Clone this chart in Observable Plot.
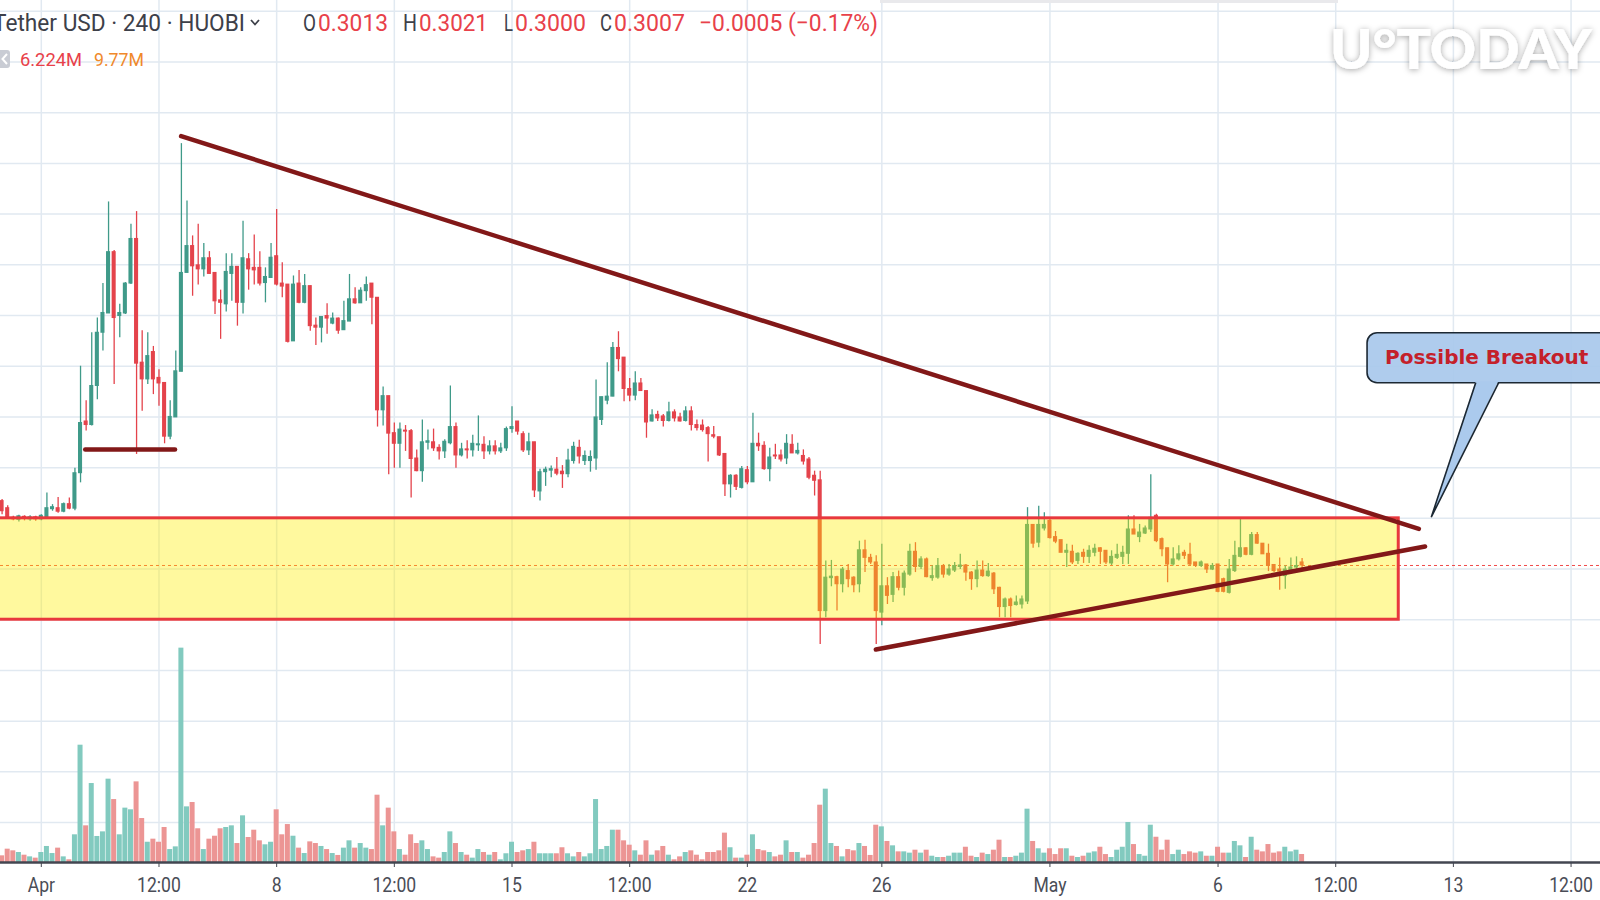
<!DOCTYPE html>
<html><head><meta charset="utf-8">
<script src="https://cdn.jsdelivr.net/npm/d3@7"></script>
<script src="https://cdn.jsdelivr.net/npm/@observablehq/plot@0.6"></script>
<style>
html,body{margin:0;padding:0;background:#fff;}
#wrap{position:relative;width:1600px;height:900px;overflow:hidden;background:#fff;}
#wrap svg{position:absolute;left:0;top:0;overflow:hidden;}
</style></head><body><div id="wrap"></div>
<script>
// ---- data (4h candles, HUOBI XRP/USDT) ----
const firstCandle = "2019-03-30T20:00Z";
const open = [
0.3134,0.3120,0.3101,0.3097,0.3103,0.3098,0.3102,0.3098,0.3101,0.3118,
0.3120,0.3113,0.3128,0.3119,0.3189,0.3291,0.3284,0.3361,0.3466,0.3504,
0.3625,0.3499,0.3504,0.3563,0.3651,0.3407,0.3374,0.3428,0.3377,0.3367,
0.3261,0.3299,0.3389,0.3584,0.3637,0.3599,0.3591,0.3613,0.3584,0.3530,
0.3522,0.3582,0.3596,0.3525,0.3611,0.3594,0.3594,0.3564,0.3574,0.3617,
0.3563,0.3561,0.3449,0.3563,0.3525,0.3558,0.3480,0.3476,0.3499,0.3484,
0.3494,0.3471,0.3488,0.3532,0.3524,0.3548,0.3563,0.3535,0.3313,0.3341,
0.3268,0.3247,0.3273,0.3272,0.3218,0.3193,0.3249,0.3250,0.3239,0.3232,
0.3248,0.3280,0.3224,0.3236,0.3234,0.3244,0.3245,0.3232,0.3242,0.3232,
0.3238,0.3276,0.3291,0.3266,0.3234,0.3250,0.3153,0.3191,0.3194,0.3196,
0.3192,0.3187,0.3213,0.3239,0.3213,0.3213,0.3218,0.3294,0.3332,0.3340,
0.3436,0.3417,0.3355,0.3342,0.3366,0.3351,0.3291,0.3304,0.3301,0.3292,
0.3309,0.3299,0.3292,0.3311,0.3284,0.3283,0.3278,0.3264,0.3260,0.3227,
0.3167,0.3184,0.3160,0.3195,0.3171,0.3247,0.3243,0.3197,0.3224,0.3224,
0.3218,0.3245,0.3228,0.3223,0.3216,0.3184,0.3175,0.2917,0.2982,0.2984,
0.2970,0.2996,0.2983,0.2970,0.3037,0.3022,0.3013,0.2914,0.2966,0.2949,
0.2984,0.2963,0.2989,0.3034,0.3004,0.3019,0.2982,0.2983,0.3006,0.2989,
0.2997,0.3004,0.3007,0.2993,0.2980,0.2997,0.2986,0.2991,0.2963,0.2925,
0.2940,0.2929,0.2930,0.2936,0.3087,0.3052,0.3080,0.3095,0.3063,0.3057,
0.3032,0.3034,0.3016,0.3032,0.3024,0.3032,0.3041,0.3036,0.3011,0.3022,
0.3024,0.3030,0.3078,0.3063,0.3070,0.3078,0.3105,0.3059,0.3041,0.3009,
0.3019,0.3032,0.3028,0.3013,0.3006,0.3009,0.2999,0.3009,0.2980,0.2953,
0.2996,0.3024,0.3041,0.3028,0.3067,0.3050,0.3030,0.3008,0.2999,0.2986,
0.2996,0.3003,0.3013];
const high = [
0.3137,0.3125,0.3104,0.3106,0.3105,0.3105,0.3104,0.3107,0.3150,0.3127,
0.3141,0.3130,0.3140,0.3199,0.3400,0.3332,0.3466,0.3495,0.3563,0.3724,
0.3628,0.3522,0.3565,0.3680,0.3705,0.3470,0.3466,0.3439,0.3393,0.3367,
0.3332,0.3430,0.3839,0.3726,0.3657,0.3680,0.3642,0.3626,0.3584,0.3550,
0.3622,0.3622,0.3596,0.3686,0.3622,0.3659,0.3626,0.3594,0.3642,0.3709,
0.3604,0.3561,0.3578,0.3589,0.3581,0.3558,0.3495,0.3497,0.3523,0.3505,
0.3495,0.3528,0.3581,0.3555,0.3555,0.3576,0.3563,0.3535,0.3359,0.3341,
0.3288,0.3288,0.3283,0.3275,0.3235,0.3294,0.3274,0.3276,0.3245,0.3255,
0.3361,0.3288,0.3248,0.3253,0.3264,0.3302,0.3261,0.3253,0.3253,0.3248,
0.3280,0.3320,0.3291,0.3271,0.3268,0.3250,0.3197,0.3201,0.3203,0.3220,
0.3204,0.3236,0.3250,0.3254,0.3233,0.3233,0.3373,0.3339,0.3407,0.3447,
0.3468,0.3417,0.3376,0.3389,0.3376,0.3351,0.3314,0.3311,0.3305,0.3329,
0.3314,0.3307,0.3320,0.3320,0.3294,0.3294,0.3281,0.3281,0.3260,0.3227,
0.3186,0.3186,0.3202,0.3202,0.3307,0.3268,0.3251,0.3238,0.3246,0.3235,
0.3265,0.3265,0.3248,0.3235,0.3220,0.3193,0.3193,0.3016,0.3017,0.2986,
0.3003,0.3009,0.2985,0.3055,0.3057,0.3029,0.3026,0.3049,0.2983,0.2993,
0.2996,0.2996,0.3049,0.3052,0.3024,0.3022,0.3006,0.3021,0.3009,0.3009,
0.3013,0.3029,0.3009,0.2995,0.3016,0.3016,0.3011,0.2993,0.2964,0.2943,
0.2943,0.2947,0.2947,0.3121,0.3087,0.3124,0.3111,0.3098,0.3074,0.3057,
0.3049,0.3047,0.3032,0.3039,0.3046,0.3049,0.3042,0.3036,0.3036,0.3049,
0.3045,0.3105,0.3105,0.3088,0.3085,0.3186,0.3108,0.3061,0.3041,0.3042,
0.3046,0.3037,0.3051,0.3013,0.3016,0.3009,0.3011,0.3009,0.2982,0.3019,
0.3055,0.3098,0.3042,0.3072,0.3072,0.3050,0.3049,0.3009,0.3022,0.3006,
0.3022,0.3024,0.3021];
const low = [
0.3107,0.3099,0.3095,0.3093,0.3095,0.3094,0.3094,0.3095,0.3098,0.3114,
0.3110,0.3111,0.3117,0.3115,0.3170,0.3272,0.3282,0.3334,0.3430,0.3504,
0.3364,0.3456,0.3502,0.3561,0.3226,0.3311,0.3364,0.3344,0.3321,0.3247,
0.3255,0.3299,0.3389,0.3584,0.3538,0.3560,0.3576,0.3581,0.3502,0.3453,
0.3507,0.3528,0.3479,0.3503,0.3550,0.3560,0.3558,0.3525,0.3574,0.3558,
0.3535,0.3446,0.3449,0.3523,0.3523,0.3469,0.3441,0.3446,0.3463,0.3482,
0.3463,0.3471,0.3488,0.3522,0.3524,0.3528,0.3482,0.3280,0.3282,0.3186,
0.3199,0.3199,0.3232,0.3140,0.3192,0.3171,0.3235,0.3232,0.3215,0.3218,
0.3245,0.3199,0.3221,0.3217,0.3221,0.3232,0.3216,0.3225,0.3225,0.3228,
0.3232,0.3268,0.3264,0.3230,0.3224,0.3141,0.3134,0.3163,0.3180,0.3184,
0.3159,0.3180,0.3207,0.3207,0.3204,0.3191,0.3195,0.3283,0.3324,0.3340,
0.3389,0.3330,0.3330,0.3332,0.3350,0.3258,0.3290,0.3291,0.3280,0.3290,
0.3290,0.3290,0.3290,0.3272,0.3272,0.3270,0.3211,0.3257,0.3222,0.3143,
0.3140,0.3155,0.3158,0.3166,0.3171,0.3232,0.3195,0.3172,0.3216,0.3211,
0.3206,0.3228,0.3225,0.3205,0.3176,0.3144,0.2851,0.2904,0.2965,0.2917,
0.2953,0.2963,0.2953,0.2953,0.2993,0.3009,0.2851,0.2888,0.2930,0.2934,
0.2957,0.2947,0.2986,0.2993,0.2999,0.2983,0.2976,0.2980,0.2982,0.2986,
0.2993,0.2999,0.2976,0.2958,0.2963,0.2984,0.2984,0.2950,0.2904,0.2904,
0.2904,0.2927,0.2921,0.2930,0.3041,0.3042,0.3075,0.3059,0.3050,0.3032,
0.3003,0.3009,0.3009,0.3011,0.3011,0.3024,0.3009,0.3009,0.3007,0.3019,
0.3009,0.3009,0.3068,0.3052,0.3068,0.3072,0.3052,0.3024,0.2973,0.3006,
0.3016,0.3019,0.3006,0.3003,0.3003,0.2991,0.2997,0.2953,0.2953,0.2951,
0.2993,0.3022,0.3026,0.3026,0.3049,0.3029,0.2995,0.2993,0.2958,0.2960,
0.2993,0.2997,0.3000];
const close = [
0.3114,0.3101,0.3098,0.3104,0.3099,0.3102,0.3098,0.3105,0.3120,0.3122,
0.3113,0.3128,0.3119,0.3189,0.3288,0.3284,0.3361,0.3466,0.3505,0.3625,
0.3495,0.3505,0.3563,0.3651,0.3405,0.3374,0.3420,0.3374,0.3366,0.3261,
0.3300,0.3390,0.3584,0.3637,0.3597,0.3591,0.3613,0.3582,0.3528,0.3525,
0.3586,0.3596,0.3525,0.3613,0.3591,0.3589,0.3563,0.3576,0.3614,0.3561,
0.3557,0.3448,0.3561,0.3525,0.3558,0.3479,0.3476,0.3497,0.3494,0.3494,
0.3470,0.3489,0.3532,0.3524,0.3549,0.3560,0.3535,0.3313,0.3341,0.3267,
0.3247,0.3275,0.3271,0.3217,0.3193,0.3250,0.3252,0.3238,0.3232,0.3251,
0.3280,0.3224,0.3236,0.3234,0.3247,0.3246,0.3232,0.3242,0.3232,0.3238,
0.3276,0.3280,0.3271,0.3234,0.3250,0.3155,0.3191,0.3196,0.3197,0.3188,
0.3187,0.3214,0.3241,0.3222,0.3223,0.3221,0.3299,0.3339,0.3340,0.3436,
0.3414,0.3355,0.3342,0.3366,0.3351,0.3289,0.3303,0.3297,0.3292,0.3309,
0.3297,0.3291,0.3311,0.3284,0.3278,0.3274,0.3266,0.3261,0.3224,0.3167,
0.3184,0.3162,0.3197,0.3171,0.3247,0.3242,0.3197,0.3220,0.3222,0.3216,
0.3247,0.3228,0.3233,0.3212,0.3180,0.3174,0.2917,0.2983,0.2985,0.2970,
0.2999,0.2980,0.2968,0.3037,0.3022,0.3013,0.2917,0.2966,0.2947,0.2984,
0.2963,0.2991,0.3034,0.3004,0.3019,0.2984,0.2986,0.3006,0.2989,0.2999,
0.3006,0.3007,0.2993,0.2980,0.2997,0.2986,0.2995,0.2960,0.2925,0.2940,
0.2927,0.2934,0.2940,0.3087,0.3050,0.3087,0.3087,0.3061,0.3054,0.3032,
0.3036,0.3013,0.3030,0.3024,0.3036,0.3040,0.3034,0.3013,0.3024,0.3028,
0.3032,0.3078,0.3068,0.3072,0.3080,0.3101,0.3055,0.3039,0.3009,0.3019,
0.3029,0.3026,0.3009,0.3006,0.3013,0.2999,0.3006,0.2955,0.2955,0.2999,
0.3026,0.3041,0.3028,0.3067,0.3050,0.3029,0.3006,0.2996,0.2995,0.2999,
0.3003,0.3006,0.3007];
// volume, millions
const volume = [
5.2,10.4,9.1,7.8,5.7,4.4,3.4,7.8,12.5,7.0,
11.2,4.4,2.1,21.6,91.5,28.6,61.6,20.3,23.9,65.0,
49.1,21.6,42.4,41.1,62.9,34.3,15.8,18.2,15.8,27.3,
10.1,12.2,167.2,43.4,46.8,26.3,10.1,18.2,20.5,26.3,
27.3,28.6,14.8,36.4,19.5,25.2,16.9,13.8,15.8,41.1,
21.6,29.6,20.5,11.2,7.0,16.1,14.8,12.5,10.1,7.0,
5.5,11.2,16.9,11.2,14.8,11.2,10.1,52.5,28.6,42.4,
23.9,10.1,5.7,21.6,14.8,16.9,10.1,4.4,3.4,7.8,
23.9,14.8,7.8,5.7,3.4,10.1,7.8,5.7,7.8,2.1,
6.8,15.8,7.8,9.1,10.1,15.8,6.8,6.8,6.8,6.8,
11.5,6.8,4.4,7.8,4.4,6.8,49.1,10.1,12.5,25.2,
25.2,16.9,13.5,9.1,5.7,16.9,5.7,9.1,12.5,5.7,
2.1,4.4,7.8,9.1,5.7,2.1,7.8,7.8,9.1,22.9,
11.5,3.4,3.4,5.7,21.6,10.1,9.1,7.8,4.4,5.7,
16.9,7.8,7.8,3.4,5.7,14.8,44.7,57.2,14.8,12.5,
4.4,10.1,9.1,14.8,12.5,5.5,29.1,27.8,16.4,13.0,
8.3,8.3,7.3,9.6,7.3,9.6,4.9,3.9,3.9,4.9,
7.3,7.3,11.9,4.9,3.9,7.3,6.2,9.6,17.4,3.9,
3.9,4.9,7.3,41.6,16.4,10.7,7.3,10.7,6.2,10.7,
10.7,4.9,3.9,4.9,7.3,8.3,11.9,6.2,3.9,9.6,
11.9,31.2,14.0,6.2,4.9,29.1,19.7,9.6,17.4,6.2,
9.6,6.2,8.3,7.3,8.3,4.9,4.9,11.9,7.3,7.3,
16.4,13.0,3.9,19.7,9.6,8.3,14.0,7.3,8.3,11.9,
8.3,9.6,6.224];
const tickDates = ["2019-04-01T00:00Z","2019-04-04T12:00Z","2019-04-08T00:00Z","2019-04-11T12:00Z","2019-04-15T00:00Z","2019-04-18T12:00Z","2019-04-22T00:00Z","2019-04-26T00:00Z","2019-05-01T00:00Z","2019-05-06T00:00Z","2019-05-09T12:00Z","2019-05-13T00:00Z","2019-05-16T12:00Z"];
const tickLabels = ["Apr","12:00","8","12:00","15","12:00","22","26","May","6","12:00","13","12:00"];
const priceGrid = [0.25,0.26,0.27,0.28,0.29,0.30,0.31,0.32,0.33,0.34,0.35,0.36,0.37,0.38,0.39,0.40,0.41];
const lastPrice = [0.3007];
const zoneTimes = ["2019-03-28T00:00Z","2019-05-11T09:00Z"];
const zonePrices = [0.29, 0.31];
const resistanceLine = [["2019-04-05T03:48Z",0.38537],["2019-05-11T23:21Z",0.30793]];
const supportLine = [["2019-04-25T19:44Z",0.28412],["2019-05-12T03:46Z",0.30444]];
const baseLine = [["2019-04-02T07:21Z",0.32357],["2019-04-04T23:27Z",0.32357]];
const calloutText = "Possible Breakout";
const calloutBox = [["2019-05-10T10:44Z",0.34651],["2019-05-19T00:00Z",0.33665]];
const calloutTail = [["2019-05-13T15:50Z",0.33665],["2019-05-12T08:12Z",0.31022],["2019-05-14T08:10Z",0.33665]];
const calloutAnchor = ["2019-05-13T23:46Z",0.34178];
const legendTitle = "Tether USD · 240 · HUOBI";
const legendOHLC = [["O","0.3013"],["H","0.3021"],["L","0.3000"],["C","0.3007"]];
const legendChange = "−0.0005 (−0.17%)";
const legendVolume = ["6.224M","9.77M"];
const watermark = "U°TODAY";

// ---- build ----
const HOUR = 3600e3;
const D = s => new Date(s);
const t0 = +D(firstCandle);
const UP = "#3f9a89", DOWN = "#e4434b", VUP = "#82cabf", VDOWN = "#ec9594";
const candles = open.map((o, i) => ({t: new Date(t0 + i*4*HOUR), o, h: high[i], l: low[i], c: close[i], v: volume[i], up: close[i] >= o}));
const xDomain = [D("2019-03-30T18:52Z"), D("2019-05-17T09:01Z")];
const yDomain = [0.24212, 0.41213];
const GRID = "#e1e9f1";
const pt = a => ({t: D(a[0]), p: a[1]});

const wrap = document.getElementById("wrap");

const price = Plot.plot({
  width: 1600, height: 862, margin: 0,
  x: {type: "utc", domain: xDomain, axis: null},
  y: {domain: yDomain, axis: null},
  style: {background: "white"},
  marks: [
    Plot.ruleY(priceGrid, {stroke: GRID, strokeWidth: 1.5}),
    Plot.ruleX(tickDates.map(D), {stroke: GRID, strokeWidth: 1.5}),
    Plot.ruleY(lastPrice, {stroke: "#ef4a4a", strokeWidth: 1, strokeDasharray: "3,3"}),
    Plot.ruleX(candles, {x: "t", y1: "l", y2: "h", stroke: d => d.up ? UP : DOWN, strokeWidth: 1.3}),
    Plot.rect(candles, {x1: d => new Date(+d.t - 1.45*HOUR), x2: d => new Date(+d.t + 1.45*HOUR), y1: "o", y2: "c", fill: d => d.up ? UP : DOWN, insetTop: -0.5, insetBottom: -0.5}),
    Plot.rect([0], {x1: () => D(zoneTimes[0]), x2: () => D(zoneTimes[1]), y1: () => zonePrices[0], y2: () => zonePrices[1], fill: "rgb(255,240,0)", fillOpacity: 0.38, stroke: "#e8383d", strokeWidth: 3}),
    Plot.line(resistanceLine.map(pt), {x: "t", y: "p", stroke: "#821818", strokeWidth: 4.5}),
    Plot.line(supportLine.map(pt), {x: "t", y: "p", stroke: "#821818", strokeWidth: 4.5}),
    Plot.line(baseLine.map(pt), {x: "t", y: "p", stroke: "#821818", strokeWidth: 4.5}),
    Plot.rect([0], {x1: () => D(calloutBox[0][0]), x2: () => D(calloutBox[1][0]), y1: () => calloutBox[0][1], y2: () => calloutBox[1][1], rx: 10, fill: "#a8c8ec", fillOpacity: 0.92, stroke: "#1c2833", strokeWidth: 1.6}),
    Plot.line(calloutTail.map(pt).map((d, i) => i === 1 ? d : {t: d.t, p: d.p + 0.0004}), {x: "t", y: "p", fill: "#abcaed", stroke: "none"}),
    Plot.line(calloutTail.map(pt), {x: "t", y: "p", stroke: "#1c2833", strokeWidth: 1.6, fill: "none", strokeLinejoin: "miter"}),
    Plot.text([calloutText], {x: () => D(calloutAnchor[0]), y: () => calloutAnchor[1], text: d => d, fill: "#c4202a", fontSize: 20, fontWeight: "bold", fontFamily: "DejaVu Sans"})
  ]
});
wrap.appendChild(price);

const labelByTime = new Map(tickDates.map((d, i) => [+D(d), tickLabels[i]]));
const vol = Plot.plot({
  width: 1600, height: 900, marginTop: 0, marginBottom: 38, marginLeft: 0, marginRight: 0,
  x: {type: "utc", domain: xDomain},
  y: {domain: [0, 672.36], axis: null},
  style: {background: "transparent", fontFamily: "Roboto", fontSize: "20px", color: "#4a4d57"},
  marks: [
    Plot.rect(candles, {x1: d => new Date(+d.t - 2*HOUR), x2: d => new Date(+d.t + 2*HOUR), y1: 0, y2: "v", fill: d => d.up ? VUP : VDOWN, insetLeft: 0.3, insetRight: 0.3}),
    Plot.ruleY([0], {stroke: "#434651", strokeWidth: 2.5}),
    Plot.axisX({ticks: tickDates.map(D), tickFormat: d => labelByTime.get(+d), tickSize: 5, tickPadding: 10, stroke: "#434651", fill: "#4a4d57", label: null})
  ]
});
wrap.appendChild(vol);
vol.querySelectorAll('[aria-label="x-axis tick label"] text').forEach(el => {
  const w = el.getComputedTextLength();
  el.setAttribute("textLength", (w * 0.88).toFixed(1));
  el.setAttribute("lengthAdjust", "spacingAndGlyphs");
});

// ---- legend & watermark ----
const hdr = d3.create("svg").attr("width", 1600).attr("height", 90);
const f = hdr.append("defs").append("filter").attr("id", "wm").attr("x", "-10%").attr("y", "-40%").attr("width", "120%").attr("height", "180%");
f.append("feDropShadow").attr("dx", 0).attr("dy", 1).attr("stdDeviation", 3).attr("flood-color", "#000").attr("flood-opacity", 0.35);
hdr.append("rect").attr("x", 880).attr("y", 0).attr("width", 458).attr("height", 3).attr("fill", "#e9e9ec");
function put(txt, x, w, y, size, color) {
  return hdr.append("text").attr("x", x).attr("y", y).attr("font-family", "Roboto").attr("font-size", size).attr("fill", color).attr("textLength", w).attr("lengthAdjust", "spacingAndGlyphs").text(txt);
}
const DARK = "#3d4049", RED = "#e8414a";
put(legendTitle, -7, 252, 31, 24, DARK);
hdr.append("path").attr("d", "M251,20 L255,24.5 L259,20").attr("fill", "none").attr("stroke", DARK).attr("stroke-width", 1.8);
const ohlcX = [[303, 13, 318, 70], [403, 14, 419, 69], [504, 9, 515, 71], [600, 12, 614, 71]];
legendOHLC.forEach((d, i) => {
  const p = ohlcX[i];
  put(d[0], p[0], p[1], 31, 24, DARK);
  put(d[1], p[2], p[3], 31, 24, RED);
});
put(legendChange, 699, 179, 31, 24, RED);
hdr.append("rect").attr("x", -8).attr("y", 50).attr("width", 18).attr("height", 18).attr("rx", 3).attr("fill", "#c9ccd4");
hdr.append("path").attr("d", "M7,54 L2.5,59 L7,64").attr("fill", "none").attr("stroke", "#fff").attr("stroke-width", 2);
put(legendVolume[0], 20, 62, 66, 19, RED);
put(legendVolume[1], 94, 50, 66, 19, "#f0892b");
hdr.append("text").attr("x", 1330).attr("y", 69).attr("font-family", "Lato, Inter, sans-serif").attr("font-weight", 900).attr("font-size", 56).attr("fill", "#ffffff").attr("filter", "url(#wm)").attr("textLength", 262).attr("lengthAdjust", "spacingAndGlyphs").text(watermark);
wrap.appendChild(hdr.node());
</script></body></html>
